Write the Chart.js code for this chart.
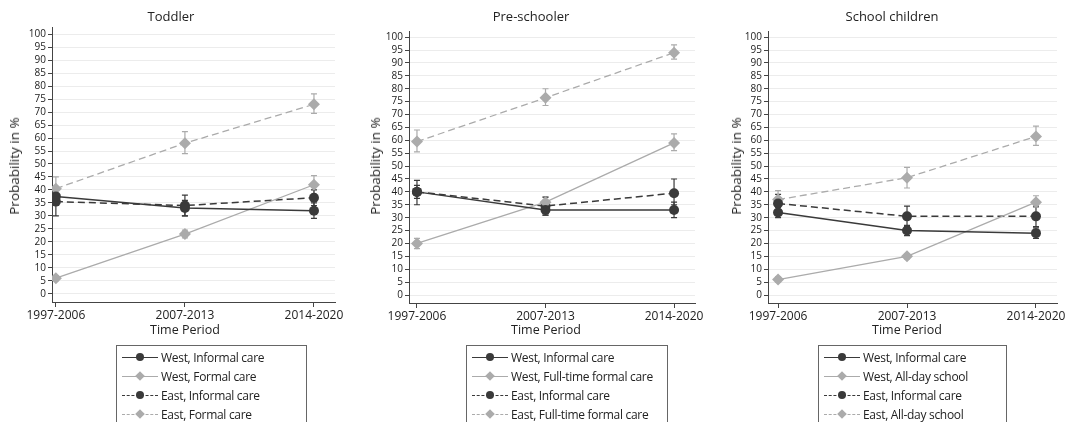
<!DOCTYPE html>
<html>
<head>
<meta charset="utf-8">
<script src="https://cdn.jsdelivr.net/npm/chart.js@4.4.1/dist/chart.umd.min.js"></script>
<style>
  body { margin: 0; width: 1072px; height: 422px; background: #fff; overflow: hidden; position: relative; font-family: 'Open Sans', sans-serif; color: #222; }
  canvas { position: absolute; top: 0; }
  .t { position: absolute; white-space: nowrap; transform: translate(-50%, -50%); }
  .ytitle { transform: translate(-50%, -50%) rotate(-90deg); }
  .legend { position: absolute; top: 345px; height: 90px; border: 1px solid #666; background: #fff; font-size: 12px; letter-spacing: -0.3px; }
  .row { position: absolute; left: 0; right: 0; height: 18px; }
  .row span { position: absolute; left: 44px; top: 50%; transform: translateY(-50%); white-space: nowrap; }
  .sw { position: absolute; left: 5px; width: 36px; top: 9px; border-top-width: 1.5px; }
  .mk { position: absolute; left: 19px; top: 5px; width: 8px; height: 8px; }
</style>
</head>
<body>
<script>
// ---- data ----
const periods = ['1997-2006', '2007-2013', '2014-2020'];
const panelTitles = ['Toddler', 'Pre-schooler', 'School children'];
const formalNames = ['Formal care', 'Full-time formal care', 'All-day school'];

// rows: West informal, West formal, East informal, East formal
const toddlerValues = [[37.5, 33, 32], [6, 23, 42], [35.5, 34, 37], [40.5, 58, 73]];
const toddlerLower  = [[35, 30, 29], [5, 21.5, 38.5], [30, 30, 34], [36, 54, 69.5]];
const toddlerUpper  = [[40, 36, 35], [7, 24.5, 45.5], [41, 38, 40], [45, 62.5, 77]];

const preschoolValues = [[40, 33, 33], [20, 36, 59], [40, 34.5, 39.5], [59.5, 76.5, 94]];
const preschoolLower  = [[37.5, 31, 30], [18, 34, 56], [35, 31, 35], [55.5, 73.5, 91.5]];
const preschoolUpper  = [[42.5, 35, 36], [22, 38, 62.5], [44.5, 38, 45], [64, 80, 97]];

const schoolValues = [[32, 25, 24], [6, 15, 36], [35.5, 30.5, 30.5], [37, 45.5, 61.5]];
const schoolLower  = [[30, 23, 22], [5, 14, 34], [32, 26.5, 26.5], [33, 41.5, 58]];
const schoolUpper  = [[34, 27, 26], [7, 16, 38.5], [39, 34.5, 34.5], [40.5, 49.5, 65.5]];

const yTicks = [0, 5, 10, 15, 20, 25, 30, 35, 40, 45, 50, 55, 60, 65, 70, 75, 80, 85, 90, 95, 100];

// ---- styling / layout ----
const DARK = '#3a3a3a';
const LIGHT = '#ababab';
const styles = [
  { color: DARK, dash: [], marker: 'circle', r: 5, width: 1.5 },
  { color: LIGHT, dash: [], marker: 'rectRot', r: 6, width: 1.3 },
  { color: DARK, dash: [7, 4], marker: 'circle', r: 5, width: 1.5 },
  { color: LIGHT, dash: [7, 4], marker: 'rectRot', r: 6, width: 1.3 },
];

const panels = [
  { values: toddlerValues, lower: toddlerLower, upper: toddlerUpper,
    axisX: 52, right: 335, top: 27, bottom: 302, xMin: -0.03, xMax: 2.163, yMin: -3.2, yMax: 102.8,
    titleX: 171, yTitleX: 14, catX: 185, legendLeft: 116, legendW: 189 },
  { values: preschoolValues, lower: preschoolLower, upper: preschoolUpper,
    axisX: 409, right: 695, top: 31, bottom: 303, xMin: -0.062, xMax: 2.163, yMin: -3.1, yMax: 102.4,
    titleX: 531, yTitleX: 375, catX: 546, legendLeft: 466, legendW: 200 },
  { values: schoolValues, lower: schoolLower, upper: schoolUpper,
    axisX: 768, right: 1057, top: 31, bottom: 303, xMin: -0.078, xMax: 2.163, yMin: -3.1, yMax: 102.4,
    titleX: 892, yTitleX: 736, catX: 907, legendLeft: 818, legendW: 187 },
];

const errorBars = {
  id: 'errorBars',
  beforeDatasetsDraw(chart) {
    const { ctx, scales: { x, y } } = chart;
    chart.data.datasets.forEach((ds) => {
      ctx.save();
      ctx.strokeStyle = ds.borderColor;
      ctx.lineWidth = 1.2;
      ds.data.forEach((p, j) => {
        const px = x.getPixelForValue(p.x);
        const lo = y.getPixelForValue(ds.lower[j]);
        const hi = y.getPixelForValue(ds.upper[j]);
        ctx.beginPath();
        ctx.moveTo(px, lo); ctx.lineTo(px, hi);
        ctx.moveTo(px - 3, lo); ctx.lineTo(px + 3, lo);
        ctx.moveTo(px - 3, hi); ctx.lineTo(px + 3, hi);
        ctx.stroke();
      });
      ctx.restore();
    });
  }
};

function addText(text, x, y, size, extra) {
  const d = document.createElement('div');
  d.className = 't' + (extra ? ' ' + extra : '');
  d.style.left = x + 'px';
  d.style.top = y + 'px';
  d.style.fontSize = size + 'px';
  d.textContent = text;
  document.body.appendChild(d);
}

const Y_W = 44, X_H = 30, CANVAS_H = 340, PAD_R = 22;

panels.forEach((p, pi) => {
  const canvas = document.createElement('canvas');
  const left = p.axisX - Y_W;
  const w = p.right - left + PAD_R;
  canvas.style.left = left + 'px';
  canvas.style.width = w + 'px';
  canvas.style.height = CANVAS_H + 'px';
  canvas.width = w; canvas.height = CANVAS_H;
  document.body.appendChild(canvas);

  const labels = ['West, Informal care', 'West, ' + formalNames[pi], 'East, Informal care', 'East, ' + formalNames[pi]];

  const datasets = p.values.map((vals, si) => ({
    label: labels[si],
    data: vals.map((v, j) => ({ x: j, y: v })),
    lower: p.lower[si],
    upper: p.upper[si],
    borderColor: styles[si].color,
    backgroundColor: styles[si].color,
    borderDash: styles[si].dash,
    borderWidth: styles[si].width,
    pointStyle: styles[si].marker,
    pointRadius: styles[si].r,
    pointBorderWidth: 0,
    tension: 0,
  }));

  new Chart(canvas.getContext('2d'), {
    type: 'line',
    data: { datasets },
    plugins: [errorBars],
    options: {
      responsive: false,
      animation: false,
      layout: { padding: { top: p.top, right: PAD_R, bottom: CANVAS_H - p.bottom - X_H, left: 0 } },
      plugins: { legend: { display: false }, title: { display: false }, tooltip: { enabled: false } },
      scales: {
        x: {
          type: 'linear', min: p.xMin, max: p.xMax,
          afterBuildTicks: (s) => { s.ticks = periods.map((_, i) => ({ value: i })); },
          afterFit: (s) => { s.height = X_H; },
          ticks: { callback: (v) => periods[v], color: '#222', font: { family: 'Open Sans', size: 12 }, maxRotation: 0, autoSkip: false, padding: 1 },
          grid: { drawOnChartArea: false, tickLength: 5, tickColor: '#444', tickWidth: 1 },
          border: { display: true, color: '#444', width: 1 },
        },
        y: {
          min: p.yMin, max: p.yMax,
          afterBuildTicks: (s) => { s.ticks = yTicks.map((v) => ({ value: v })); },
          afterFit: (s) => { s.width = Y_W; },
          ticks: { color: '#222', font: { family: 'Open Sans', size: 10 }, autoSkip: false, padding: 2 },
          grid: { color: '#ececec', lineWidth: 1, tickLength: 4, tickColor: '#444', tickWidth: 1 },
          border: { display: true, color: '#444', width: 1 },
        },
      },
    },
  });

  addText(panelTitles[pi], p.titleX, 16, 13);
  addText('Probability in %', p.yTitleX, 166, 13.5, 'ytitle');
  addText('Time Period', p.catX, 329, 12.5);

  // legend box
  const box = document.createElement('div');
  box.className = 'legend';
  box.style.left = p.legendLeft + 'px';
  box.style.width = p.legendW + 'px';
  labels.forEach((lab, si) => {
    const row = document.createElement('div');
    row.className = 'row';
    row.style.top = (2 + si * 19) + 'px';
    const sw = document.createElement('div');
    sw.className = 'sw';
    sw.style.borderTopStyle = styles[si].dash.length ? 'dashed' : 'solid';
    sw.style.borderTopColor = styles[si].color;
    const mk = document.createElement('div');
    mk.className = 'mk';
    mk.style.background = styles[si].color;
    if (styles[si].marker === 'circle') {
      mk.style.borderRadius = '50%';
    } else {
      mk.style.transform = 'rotate(45deg) scale(0.85)';
    }
    const tx = document.createElement('span');
    tx.textContent = lab;
    row.appendChild(sw); row.appendChild(mk); row.appendChild(tx);
    box.appendChild(row);
  });
  document.body.appendChild(box);
});
</script>
</body>
</html>
